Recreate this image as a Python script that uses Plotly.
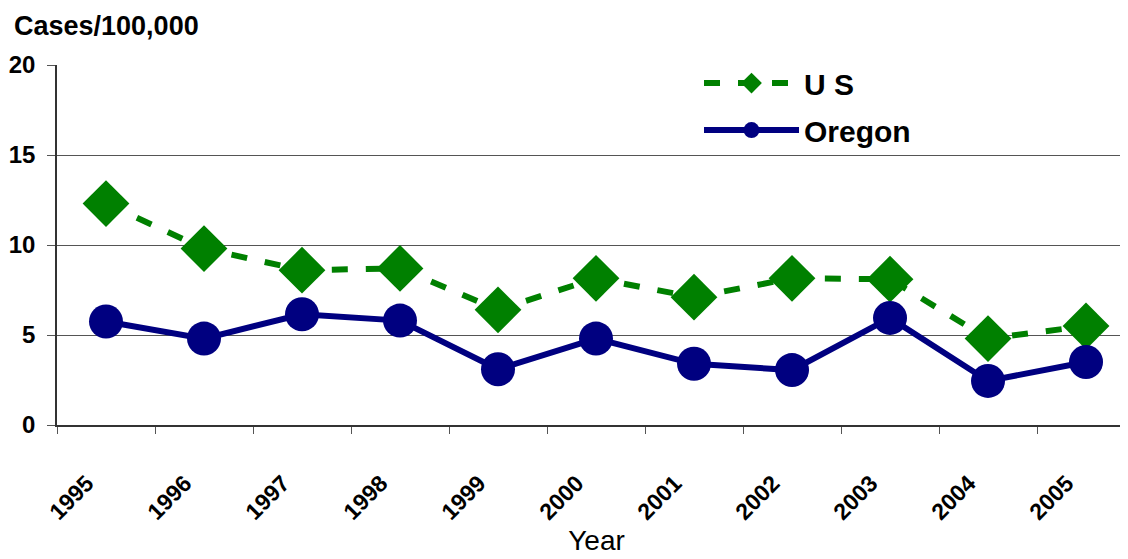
import plotly.graph_objects as go

years = ["1995", "1996", "1997", "1998", "1999", "2000", "2001", "2002", "2003", "2004", "2005"]
us = [12.3, 9.8, 8.6, 8.7, 6.4, 8.15, 7.1, 8.15, 8.1, 4.8, 5.5]
oregon = [5.75, 4.8, 6.15, 5.8, 3.1, 4.8, 3.4, 3.05, 5.95, 2.45, 3.5]

FONT = "Liberation Sans, Arial, sans-serif"

fig = go.Figure()
fig.add_trace(go.Scatter(
    x=years, y=us, name="U S", mode="lines+markers", legendgroup="us",
    line=dict(color="#008000", width=6, dash="16px,18px"),
    marker=dict(symbol="diamond", size=36, color="#008000"),
))
fig.add_trace(go.Scatter(
    x=years, y=oregon, name="Oregon", mode="lines+markers", legendgroup="or",
    line=dict(color="#000080", width=6),
    marker=dict(symbol="circle", size=34, color="#000080"),
))

fig.update_layout(
    width=1128, height=559,
    margin=dict(l=49, r=0, t=57, b=142, autoexpand=False),
    paper_bgcolor="white", plot_bgcolor="white",
    font=dict(family=FONT, color="black"),
    showlegend=True,
    legend=dict(
        x=0.595, y=1.022, xanchor="left", yanchor="top",
        bgcolor="rgba(0,0,0,0)", borderwidth=0,
        font=dict(family=FONT, size=30, color="black", weight="bold"),
        itemwidth=95, tracegroupgap=5,
    ),
    shapes=[dict(
        type="rect", xref="paper", yref="paper", x0=0.594, x1=0.80, y0=0.742, y1=0.994,
        fillcolor="white", line=dict(width=0), layer="between",
    )],
    xaxis=dict(
        type="category", range=[-0.5, 10.51], automargin=False,
        tickson="boundaries", ticks="outside", ticklen=7, tickcolor="#555",
        showline=True, linecolor="#333", linewidth=1.5,
        showgrid=False, tickangle=-45,
        ticklabelstandoff=34, ticklabelshift=-19,
        tickfont=dict(family=FONT, size=23, color="black", weight="bold"),
        title=dict(text="Year", font=dict(family=FONT, size=28, color="black"), standoff=5),
    ),
    yaxis=dict(
        range=[0, 20], dtick=5, tick0=0, automargin=False,
        ticks="outside", ticklen=8, tickcolor="#555",
        showline=True, linecolor="#333", linewidth=1.5,
        showgrid=True, gridcolor="#555", gridwidth=1.2,
        zeroline=False, ticklabelstandoff=7,
        tickfont=dict(family=FONT, size=24, color="black", weight="bold"),
    ),
    annotations=[dict(
        text="Cases/100,000", xref="paper", yref="paper", x=-0.042, y=1.155,
        xanchor="left", yanchor="top", showarrow=False,
        font=dict(family=FONT, size=27, color="black", weight="bold"),
    )],
)

fig.write_html("out.html")
